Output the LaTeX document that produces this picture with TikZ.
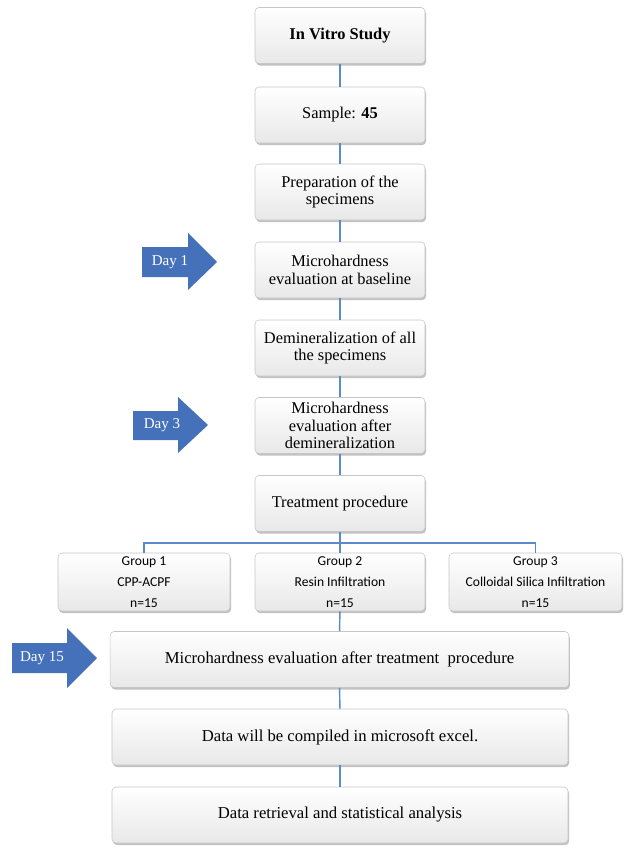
\documentclass[tikz,border=0pt]{standalone}
\usepackage{fontspec}
\setmainfont{Liberation Serif}
\newfontfamily\grpfont{Carlito}
\usetikzlibrary{shadows}
\definecolor{linkblue}{RGB}{91,137,201}
\definecolor{arrowblue}{RGB}{69,113,186}
\begin{document}
\begin{tikzpicture}[x=0.75pt,y=-0.75pt,
 box/.style={draw=gray!45, line width=0.4pt, rounded corners=3pt, top color=white, bottom color=gray!18,
   drop shadow={shadow xshift=0.8pt, shadow yshift=-1.6pt, opacity=0.4, fill=black!60},
   align=center, inner sep=1pt, font=\fontsize{12.3}{13.2}\selectfont},
 small/.style={box, minimum width=127.5pt, minimum height=42pt},
 grp/.style={box, minimum height=43.5pt, font=\grpfont\fontsize{10.2}{15.75}\selectfont},
 wide/.style={box, minimum width=342pt, minimum height=42pt, font=\fontsize{12.5}{14}\selectfont},
 link/.style={draw=linkblue, line width=1.1pt},
 daytext/.style={text=white, font=\fontsize{11.3}{13}\selectfont, inner sep=0pt},
 dayarrow/.style={fill=arrowblue}
]
\useasboundingbox (0,0) rectangle (635,856);

% main column
\node[small] (n1) at (340,35.5) {\textbf{In Vitro Study}};
\node[small] (n2) at (340,115) {Sample: \textbf{45}};
\node[small] (n3) at (340,192) {Preparation of the\\specimens};
\node[small] (n4) at (340,270) {Microhardness\\evaluation at baseline};
\node[small] (n5) at (340,348) {Demineralization of all\\the specimens};
\node[small] (n6) at (340,425.5) {Microhardness\\evaluation after\\demineralization};
\node[small] (n7) at (340,503.5) {Treatment procedure};

% groups
\node[grp, minimum width=129pt] (g1) at (144,582) {Group 1\\CPP-ACPF\\n=15};
\node[grp, minimum width=127.5pt] (g2) at (340,582) {Group 2\\Resin Infiltration\\n=15};
\node[grp, minimum width=129.75pt] (g3) at (535.5,582) {Group 3\\Colloidal Silica Infiltration\\n=15};

% lower boxes
\node[wide, minimum width=344pt] (d15box) at (339.5,659.5) {Microhardness evaluation after treatment\ \ procedure};
\node[wide] (dc) at (340,737) {Data will be compiled in microsoft excel.};
\node[wide] (dr) at (340,815) {Data retrieval and statistical analysis};

% connectors
\draw[link] (n1) -- (n2);
\draw[link] (n2) -- (n3);
\draw[link] (n3) -- (n4);
\draw[link] (n4) -- (n5);
\draw[link] (n5) -- (n6);
\draw[link] (n6) -- (n7);
\coordinate (br) at (340,543);
\draw[link] (n7.south) -- (br);
\draw[link] (g1.north) |- (br) -| (g3.north);
\draw[link] (br) -- (g2.north);
\draw[link] (g2) -- (d15box);
\draw[link] (d15box) -- (dc);
\draw[link] (dc) -- (dr);

% day arrows
\fill[dayarrow] (142,247) -- (188,247) -- (188,233) -- (217,262) -- (188,290) -- (188,277) -- (142,277) -- cycle;
\node[daytext] (d1) at (170,262) {Day 1};
\fill[dayarrow] (133,411) -- (178,411) -- (178,397) -- (208,425) -- (178,453) -- (178,440) -- (133,440) -- cycle;
\node[daytext] (d3) at (162,425) {Day 3};
\fill[dayarrow] (12,643) -- (67,643) -- (67,628) -- (97,658) -- (67,688) -- (67,673) -- (12,673) -- cycle;
\node[daytext] (d15) at (42,658) {Day 15};
\end{tikzpicture}
\end{document}
